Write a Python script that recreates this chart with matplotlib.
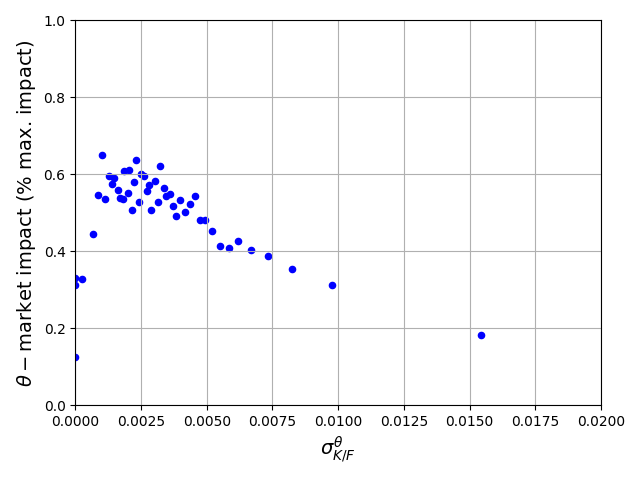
import matplotlib
matplotlib.use("Agg")
import matplotlib.pyplot as plt

# sigma^theta_{K/F} per asset
sigma = [
    0.00100, 0.00232, 0.00323, 0.00186, 0.00206, 0.00127, 0.00149, 0.00251,
    0.00260, 0.00138, 0.00225, 0.00302, 0.00279, 0.00161, 0.00271, 0.00336,
    0.00085, 0.00199, 0.00359, 0.00347, 0.00454, 0.00114, 0.00171, 0.00181,
    0.00244, 0.00313, 0.00400, 0.00435, 0.00370, 0.00214, 0.00289, 0.00416,
    0.00385, 0.00473, 0.00495, 0.00522, 0.00621, 0.00549, 0.00583, 0.00667,
    0.00735, 0.00826, 0.00978, 0.01544, 0.00066, 0.00027, 0.0, 0.0, 0.0,
]
# theta market impact as fraction of max impact
impact = [
    0.651, 0.638, 0.623, 0.610, 0.612, 0.597, 0.591, 0.600,
    0.596, 0.576, 0.581, 0.584, 0.573, 0.560, 0.556, 0.565,
    0.547, 0.552, 0.550, 0.545, 0.545, 0.537, 0.539, 0.536,
    0.529, 0.529, 0.534, 0.524, 0.519, 0.508, 0.508, 0.503,
    0.493, 0.482, 0.482, 0.454, 0.428, 0.415, 0.408, 0.404,
    0.389, 0.355, 0.314, 0.184, 0.446, 0.329, 0.332, 0.312, 0.127,
]

fig, ax = plt.subplots(figsize=(6.4, 4.8), dpi=100)
ax.scatter(sigma, impact, s=20, color="blue")
ax.set_xlim(0, 0.02)
ax.set_ylim(0, 1.0)
ax.grid(True)
ax.set_xlabel(r"$\sigma^{\theta}_{K/F}$", fontsize=14)
ax.set_ylabel(r"$\theta-$market impact (% max. impact)", fontsize=14)
fig.tight_layout()
fig.savefig("out.png", dpi=100)
